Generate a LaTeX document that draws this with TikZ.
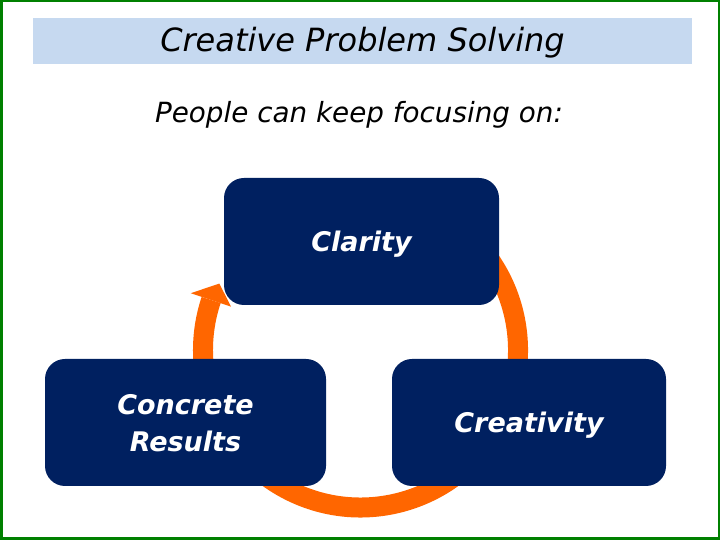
\documentclass[tikz,border=0pt]{standalone}
\usepackage{fontspec}
\setmainfont{DejaVu Sans}
\definecolor{navy}{RGB}{0,32,96}
\definecolor{barblue}{RGB}{198,217,240}
\definecolor{ringorange}{RGB}{255,102,0}
\definecolor{frame}{RGB}{0,128,0}
\tikzset{
  box/.style={fill=navy, rounded corners=20pt, minimum height=127pt, inner sep=0pt},
  boxtext/.style={text=white, font=\fontsize{27}{37}\selectfont\bfseries\itshape, align=center, inner sep=0pt},
}
\begin{document}
\begin{tikzpicture}[x=1pt,y=1pt]
\useasboundingbox (0,0) rectangle (720,540);
\fill[white] (0,0) rectangle (720,540);
\draw[frame, line width=2.5pt] (1.25,1.25) rectangle (718.75,538.75);
% title bar
\node[fill=barblue, minimum width=659pt, minimum height=46pt, inner sep=0pt] (bar) at (362.5,499) {};
\node[font=\fontsize{32}{36}\selectfont\itshape, inner sep=0pt] (title) at ([yshift=-2pt]bar.center) {Creative Problem Solving};
\node[font=\fontsize{27.8}{32}\selectfont\itshape, inner sep=0pt] (sub) at (359,425) {People can keep focusing on:};
% ring
\coordinate (c) at (360.5,190);
\draw[ringorange, line width=20pt] ([shift={(60:157.5)}]c) arc[start angle=60, end angle=-198.5, radius=157.5];
\fill[ringorange] ([shift={(161.5:179)}]c) -- ([shift={(154.8:156)}]c) -- ([shift={(161.5:136.5)}]c) -- cycle;
% boxes
\node[box, minimum width=275pt] (clar) at (361.5,298.5) {};
\node[boxtext] (clart) at ([yshift=-3pt]clar.center) {Clarity};
\node[box, minimum width=281pt] (conc) at (185.5,117.5) {};
\node[boxtext] (conct) at ([yshift=-1pt]conc.center) {Concrete\\Results};
\node[box, minimum width=274pt] (crea) at (529,117.5) {};
\node[boxtext] (creat) at ([yshift=-3pt]crea.center) {Creativity};
\end{tikzpicture}
\end{document}
